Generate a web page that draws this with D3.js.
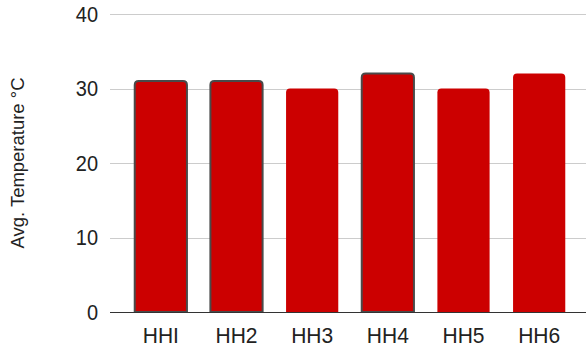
<!DOCTYPE html>
<html>
<head>
<meta charset="utf-8">
<script src="https://cdn.jsdelivr.net/npm/d3@7"></script>
<style>
  html, body { margin: 0; padding: 0; background: #fff; }
  svg { display: block; font-family: "Liberation Sans", Arial, sans-serif; }
</style>
</head>
<body>
<svg id="chart" width="586" height="349"></svg>
<script>
// Average temperature per household
const categories = ["HHI", "HH2", "HH3", "HH4", "HH5", "HH6"];
const avgTemp = [31, 31, 30, 32, 30, 32];
const yTicks = [0, 10, 20, 30, 40];
const outlined = ["HHI", "HH2", "HH4"];
const yTitle = "Avg. Temperature °C";

const svg = d3.select("#chart");
const W = 586;

const x = d3.scaleBand()
  .domain(categories)
  .range([123, 577])
  .paddingInner(0.31)
  .paddingOuter(0.155);

const y = d3.scaleLinear().domain([0, 40]).range([312, 14]);

// gridlines
svg.append("g")
  .selectAll("line")
  .data(yTicks.filter(d => d !== 0))
  .join("line")
  .attr("x1", 110).attr("x2", W)
  .attr("y1", d => Math.round(y(d)) + 0.5)
  .attr("y2", d => Math.round(y(d)) + 0.5)
  .attr("stroke", "#cccccc")
  .attr("stroke-width", 1);

// y tick labels
svg.append("g")
  .selectAll("text")
  .data(yTicks)
  .join("text")
  .attr("transform", d => `translate(98,${y(d)}) scale(1,1.08)`)
  .attr("dy", "0.36em")
  .attr("text-anchor", "end")
  .attr("font-size", 20)
  .attr("fill", "#222")
  .text(d => d);

// bars with rounded top corners
function barPath(x0, w, yTop, yBase, r) {
  r = Math.min(r, w / 2, yBase - yTop);
  return `M${x0},${yBase}V${yTop + r}Q${x0},${yTop} ${x0 + r},${yTop}` +
         `H${x0 + w - r}Q${x0 + w},${yTop} ${x0 + w},${yTop + r}V${yBase}Z`;
}

const data = categories.map((c, i) => ({ c, v: avgTemp[i] }));

svg.append("g")
  .selectAll("path")
  .data(data)
  .join("path")
  .attr("d", d => barPath(x(d.c), x.bandwidth(), y(d.v), y(0), 4))
  .attr("fill", "#cc0000")
  .attr("stroke", d => outlined.includes(d.c) ? "#4a4a4a" : "none")
  .attr("stroke-width", 2);

// baseline
svg.append("line")
  .attr("x1", 110).attr("x2", W)
  .attr("y1", Math.round(y(0)) + 0.5)
  .attr("y2", Math.round(y(0)) + 0.5)
  .attr("stroke", "#333")
  .attr("stroke-width", 1.2);

// category labels
svg.append("g")
  .selectAll("text")
  .data(categories)
  .join("text")
  .attr("transform", d => `translate(${x(d) + x.bandwidth() / 2},343) scale(1,1.05)`)
  .attr("text-anchor", "middle")
  .attr("font-size", 21)
  .attr("fill", "#222")
  .text(d => d);

// y axis title
svg.append("text")
  .attr("transform", "translate(24,163) rotate(-90)")
  .attr("text-anchor", "middle")
  .attr("font-size", 17.5)
  .attr("textLength", 171)
  .attr("lengthAdjust", "spacingAndGlyphs")
  .attr("fill", "#222")
  .text(yTitle);
</script>
</body>
</html>
